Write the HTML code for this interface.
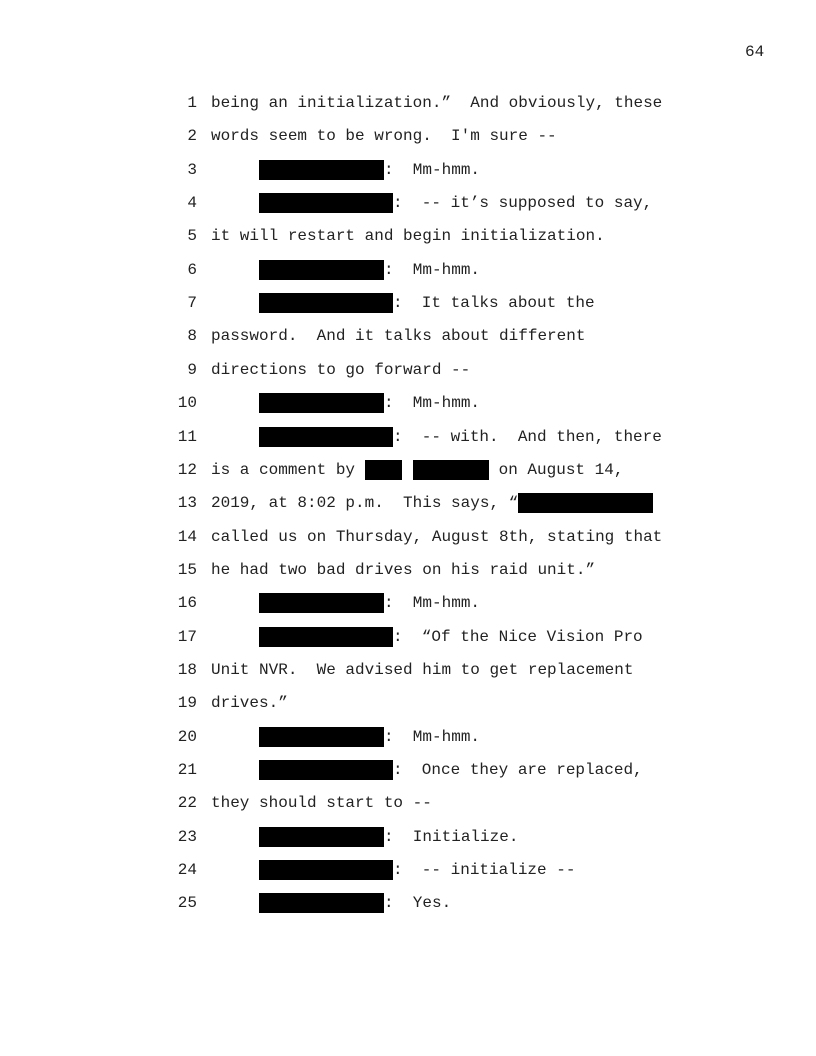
<!DOCTYPE html>
<html><head><meta charset="utf-8"><style>
html,body{margin:0;padding:0;background:#fff;}
body{width:816px;height:1056px;position:relative;overflow:hidden;font-family:"Liberation Mono",monospace;font-size:16px;color:#222;}
.r{position:absolute;left:0;width:816px;height:20px;}
.r div,.r span{position:absolute;top:0;height:20px;line-height:20px;white-space:pre;}
.n{left:167px;width:30px;text-align:right;}
.t{left:211px;}
.b{background:#000;}
.bs{left:259px;width:125px;background:#000;}
.bg{left:259px;width:134px;background:#000;}
.cs{left:384px;}
.cg{left:393px;}
</style></head><body>
<div style="position:absolute;left:745px;top:42px;line-height:20px;">64</div>

<div class="r" style="top:93px"><div class="n">1</div><div class="t">being an initialization.”  And obviously, these</div></div>
<div class="r" style="top:126.35px"><div class="n">2</div><div class="t">words seem to be wrong.  I'm sure --</div></div>
<div class="r" style="top:159.7px"><div class="n">3</div><div class="bs"></div><div class="cs">:  Mm-hmm.</div></div>
<div class="r" style="top:193.05px"><div class="n">4</div><div class="bg"></div><div class="cg">:  -- it’s supposed to say,</div></div>
<div class="r" style="top:226.4px"><div class="n">5</div><div class="t">it will restart and begin initialization.</div></div>
<div class="r" style="top:259.75px"><div class="n">6</div><div class="bs"></div><div class="cs">:  Mm-hmm.</div></div>
<div class="r" style="top:293.1px"><div class="n">7</div><div class="bg"></div><div class="cg">:  It talks about the</div></div>
<div class="r" style="top:326.45px"><div class="n">8</div><div class="t">password.  And it talks about different</div></div>
<div class="r" style="top:359.8px"><div class="n">9</div><div class="t">directions to go forward --</div></div>
<div class="r" style="top:393.15px"><div class="n">10</div><div class="bs"></div><div class="cs">:  Mm-hmm.</div></div>
<div class="r" style="top:426.5px"><div class="n">11</div><div class="bg"></div><div class="cg">:  -- with.  And then, there</div></div>
<div class="r" style="top:459.85px"><div class="n">12</div><div class="t">is a comment by</div><div class="b" style="left:365px;width:37px"></div><div class="b" style="left:413px;width:76px"></div><div style="left:489px"> on August 14,</div></div>
<div class="r" style="top:493.2px"><div class="n">13</div><div class="t">2019, at 8:02 p.m.  This says, “</div><div class="b" style="left:518px;width:135px"></div></div>
<div class="r" style="top:526.55px"><div class="n">14</div><div class="t">called us on Thursday, August 8th, stating that</div></div>
<div class="r" style="top:559.9px"><div class="n">15</div><div class="t">he had two bad drives on his raid unit.”</div></div>
<div class="r" style="top:593.25px"><div class="n">16</div><div class="bs"></div><div class="cs">:  Mm-hmm.</div></div>
<div class="r" style="top:626.6px"><div class="n">17</div><div class="bg"></div><div class="cg">:  “Of the Nice Vision Pro</div></div>
<div class="r" style="top:659.95px"><div class="n">18</div><div class="t">Unit NVR.  We advised him to get replacement</div></div>
<div class="r" style="top:693.3px"><div class="n">19</div><div class="t">drives.”</div></div>
<div class="r" style="top:726.65px"><div class="n">20</div><div class="bs"></div><div class="cs">:  Mm-hmm.</div></div>
<div class="r" style="top:760px"><div class="n">21</div><div class="bg"></div><div class="cg">:  Once they are replaced,</div></div>
<div class="r" style="top:793.35px"><div class="n">22</div><div class="t">they should start to --</div></div>
<div class="r" style="top:826.7px"><div class="n">23</div><div class="bs"></div><div class="cs">:  Initialize.</div></div>
<div class="r" style="top:860.05px"><div class="n">24</div><div class="bg"></div><div class="cg">:  -- initialize --</div></div>
<div class="r" style="top:893.4px"><div class="n">25</div><div class="bs"></div><div class="cs">:  Yes.</div></div>
</body></html>
